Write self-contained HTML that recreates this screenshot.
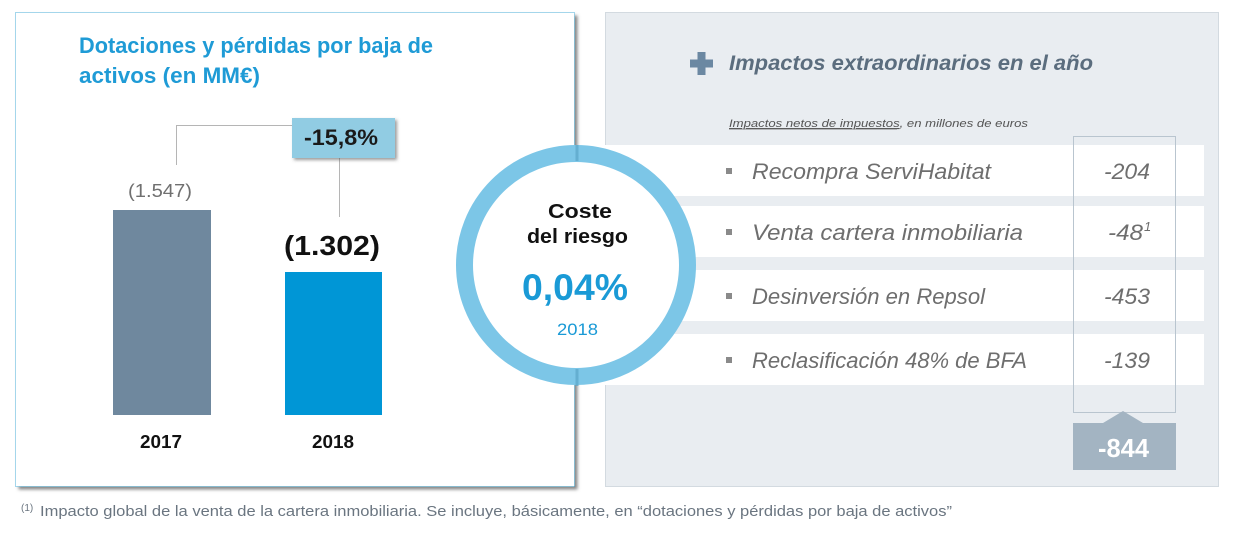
<!DOCTYPE html>
<html><head><meta charset="utf-8"><style>
html,body{margin:0;padding:0;background:#fff;}
svg{display:block;}
text{font-family:"Liberation Sans",sans-serif;}
</style></head><body>
<svg width="1235" height="537" viewBox="0 0 1235 537" xmlns="http://www.w3.org/2000/svg">
<defs>
<filter id="sh" x="-5%" y="-5%" width="115%" height="115%">
<feDropShadow dx="3" dy="3" stdDeviation="1.5" flood-color="#555" flood-opacity="0.7"/>
</filter>
<filter id="sh2" x="-10%" y="-10%" width="130%" height="140%">
<feDropShadow dx="2" dy="2" stdDeviation="1.5" flood-color="#555" flood-opacity="0.6"/>
</filter>
</defs>
<rect width="1235" height="537" fill="#fff"/>

<!-- Right panel -->
<rect x="605.5" y="12.5" width="613" height="474" fill="#e9edf1" stroke="#d3dae0" stroke-width="1"/>
<!-- plus -->
<rect x="690" y="59.5" width="23" height="8" fill="#6b88a2"/>
<rect x="697.5" y="52" width="8" height="23" fill="#6b88a2"/>
<text x="729" y="70" font-size="21" font-weight="bold" font-style="italic" fill="#5b6d7e" textLength="364" lengthAdjust="spacingAndGlyphs">Impactos extraordinarios en el año</text>
<text x="729" y="127" font-size="11" font-style="italic" fill="#555" textLength="299" lengthAdjust="spacingAndGlyphs"><tspan text-decoration="underline">Impactos netos de impuestos</tspan>, en millones de euros</text>
<line x1="729" y1="129" x2="897" y2="129" stroke="#666" stroke-width="0.8"/>

<!-- rows -->
<rect x="605" y="145" width="599" height="51" fill="#fff"/>
<rect x="605" y="206" width="599" height="51" fill="#fff"/>
<rect x="605" y="270" width="599" height="51" fill="#fff"/>
<rect x="605" y="334" width="599" height="51" fill="#fff"/>

<rect x="726" y="168" width="6" height="6" fill="#8a8a8a"/>
<rect x="726" y="229" width="6" height="6" fill="#8a8a8a"/>
<rect x="726" y="293" width="6" height="6" fill="#8a8a8a"/>
<rect x="726" y="357" width="6" height="6" fill="#8a8a8a"/>

<g font-size="22" font-style="italic" fill="#6e6e6e">
<text x="752" y="179" textLength="239" lengthAdjust="spacingAndGlyphs">Recompra ServiHabitat</text>
<text x="752" y="240" textLength="271" lengthAdjust="spacingAndGlyphs">Venta cartera inmobiliaria</text>
<text x="752" y="304" textLength="233" lengthAdjust="spacingAndGlyphs">Desinversión en Repsol</text>
<text x="752" y="368" textLength="275" lengthAdjust="spacingAndGlyphs">Reclasificación 48% de BFA</text>
<text x="1104" y="179" textLength="46" lengthAdjust="spacingAndGlyphs">-204</text>
<text x="1108" y="240" textLength="35" lengthAdjust="spacingAndGlyphs">-48</text>
<text x="1144" y="231" font-size="13">1</text>
<text x="1104" y="304" textLength="46" lengthAdjust="spacingAndGlyphs">-453</text>
<text x="1104" y="368" textLength="46" lengthAdjust="spacingAndGlyphs">-139</text>
</g>

<rect x="1073.5" y="136.5" width="102" height="276" fill="none" stroke="#b9c5cf" stroke-width="1"/>
<polygon points="1073,423 1103,423 1123,411 1143,423 1176,423 1176,470 1073,470" fill="#a3b4c2"/>
<text x="1098" y="457" font-size="26" font-weight="bold" fill="#fff" textLength="51" lengthAdjust="spacingAndGlyphs">-844</text>

<!-- Left panel -->
<rect x="15.5" y="12.5" width="559" height="474" fill="#fff" filter="url(#sh)"/>
<rect x="15.5" y="12.5" width="559" height="474" fill="none" stroke="#4aaed8" stroke-width="1" stroke-dasharray="1,1"/>

<text x="79" y="53" font-size="22" font-weight="bold" fill="#1f9bd6" textLength="354" lengthAdjust="spacingAndGlyphs">Dotaciones y pérdidas por baja de</text>
<text x="79" y="83" font-size="22" font-weight="bold" fill="#1f9bd6" textLength="181" lengthAdjust="spacingAndGlyphs">activos (en MM€)</text>

<polyline points="176.5,165 176.5,125.5 292,125.5" fill="none" stroke="#b5b5b5" stroke-width="1"/>
<line x1="339.5" y1="158" x2="339.5" y2="217" stroke="#b5b5b5" stroke-width="1"/>
<rect x="292" y="118" width="103" height="40" fill="#91cce3" filter="url(#sh2)"/>
<text x="304" y="145" font-size="22" font-weight="bold" fill="#1a1a1a" textLength="74" lengthAdjust="spacingAndGlyphs">-15,8%</text>

<text x="128" y="197" font-size="18" fill="#707070" textLength="64" lengthAdjust="spacingAndGlyphs">(1.547)</text>
<rect x="113" y="210" width="98" height="205" fill="#6f889e"/>
<text x="284" y="255" font-size="28" font-weight="bold" fill="#111" textLength="96" lengthAdjust="spacingAndGlyphs">(1.302)</text>
<rect x="285" y="272" width="97" height="143" fill="#0096d6"/>

<text x="140" y="448" font-size="18" font-weight="bold" fill="#111" textLength="42" lengthAdjust="spacingAndGlyphs">2017</text>
<text x="312" y="448" font-size="18" font-weight="bold" fill="#111" textLength="42" lengthAdjust="spacingAndGlyphs">2018</text>

<!-- Circle -->
<circle cx="576" cy="265" r="111.5" fill="#fff" stroke="#7cc6e7" stroke-width="17"/>
<line x1="577" y1="145" x2="577" y2="161" stroke="#5aa6c8" stroke-width="3" opacity="0.7"/>
<line x1="577" y1="369" x2="577" y2="386" stroke="#5aa6c8" stroke-width="3" opacity="0.7"/>
<text x="548" y="218" font-size="20" font-weight="bold" fill="#111" textLength="64" lengthAdjust="spacingAndGlyphs">Coste</text>
<text x="527" y="243" font-size="20" font-weight="bold" fill="#111" textLength="101" lengthAdjust="spacingAndGlyphs">del riesgo</text>
<text x="522" y="300" font-size="37" font-weight="bold" fill="#1a9ad6" textLength="106" lengthAdjust="spacingAndGlyphs">0,04%</text>
<text x="557" y="335" font-size="17" fill="#1a9ad6" textLength="41" lengthAdjust="spacingAndGlyphs">2018</text>

<!-- Footnote -->
<text x="21" y="511" font-size="10" fill="#6a7580">(1)</text>
<text x="40" y="516" font-size="15" fill="#6a7580" textLength="912" lengthAdjust="spacingAndGlyphs">Impacto global de la venta de la cartera inmobiliaria.  Se incluye, básicamente, en “dotaciones y pérdidas por baja de activos”</text>
</svg>
</body></html>
